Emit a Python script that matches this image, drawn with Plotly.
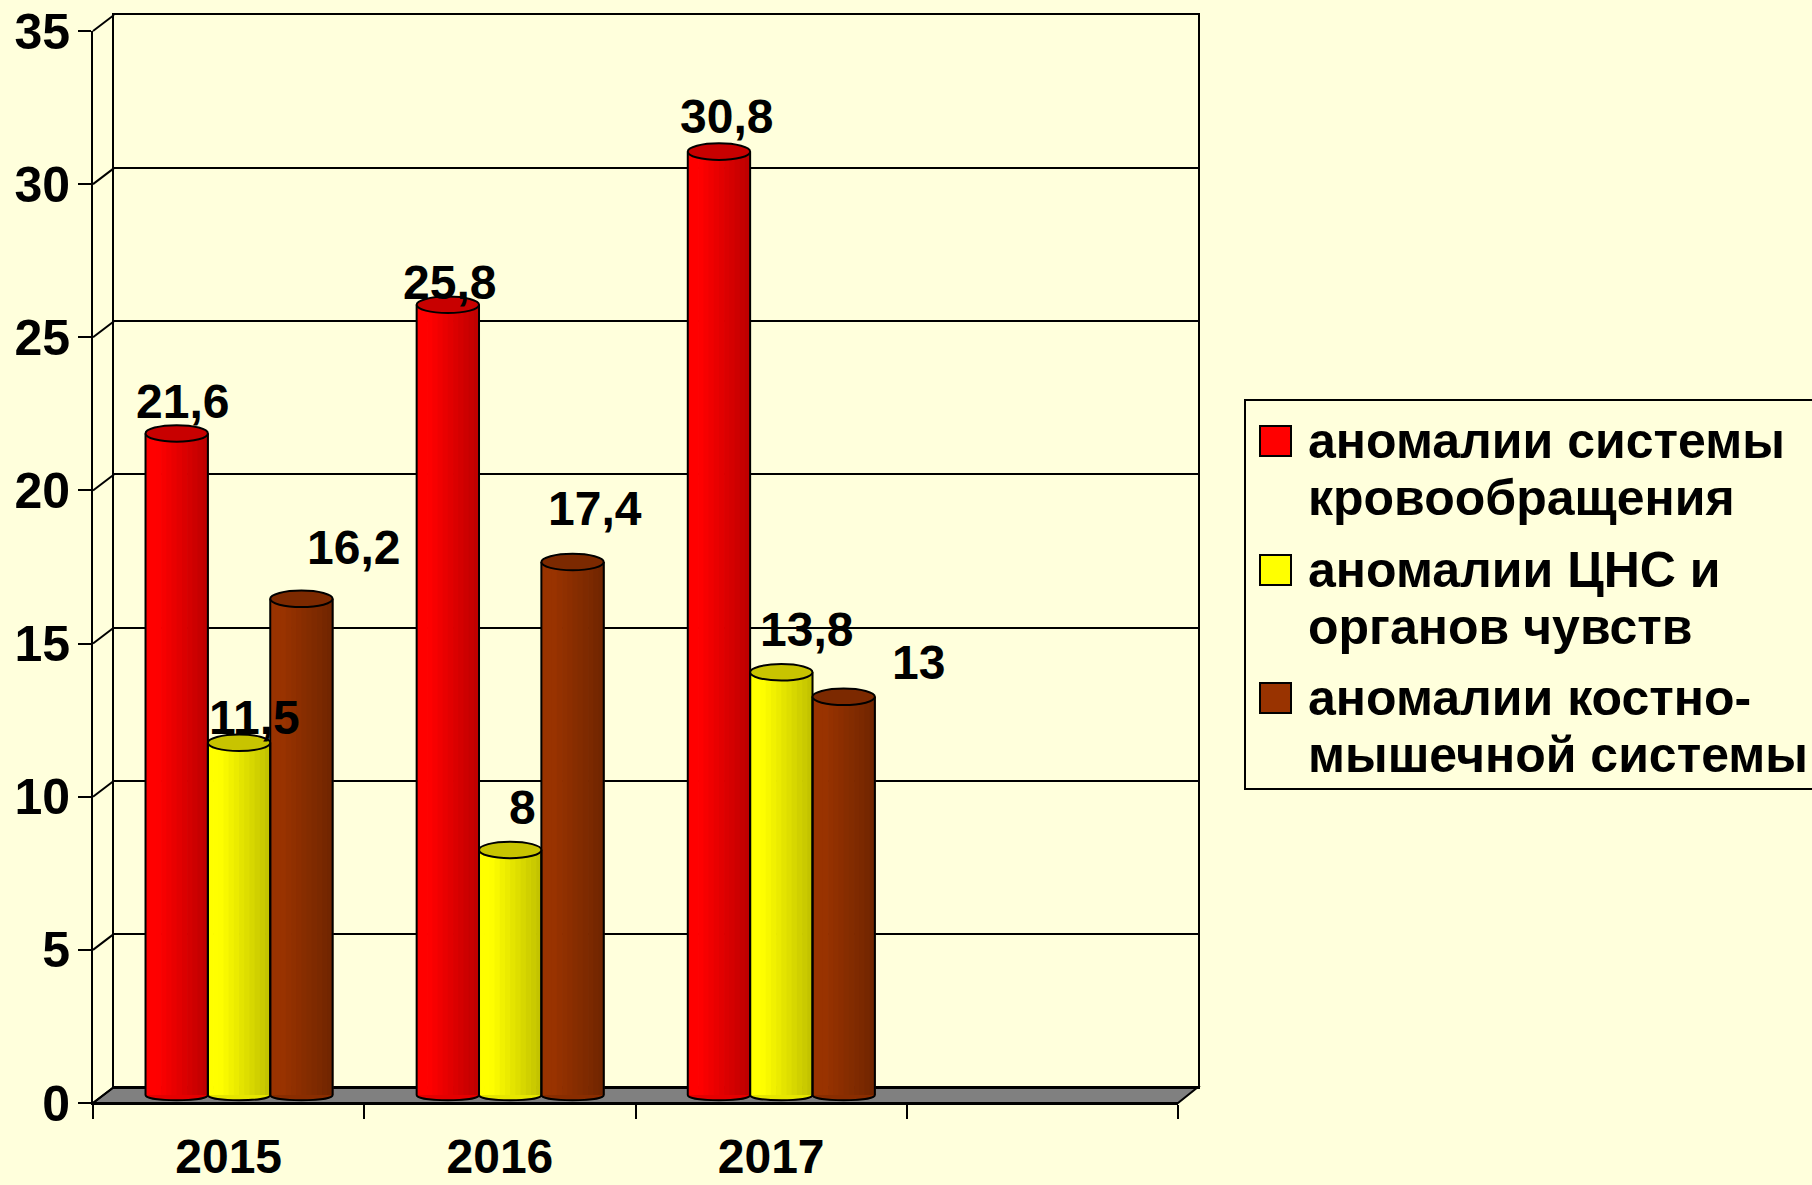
import plotly.graph_objects as go

# ---------------- data ----------------
years = ["2015", "2016", "2017"]
circulatory = [21.6, 25.8, 30.8]
cns = [11.5, 8, 13.8]
musculoskeletal = [16.2, 17.4, 13]
series_values = [circulatory, cns, musculoskeletal]
series_names = [
    ["аномалии системы", "кровообращения"],
    ["аномалии ЦНС и", "органов чувств"],
    ["аномалии костно-", "мышечной системы"],
]
y_ticks = [0, 5, 10, 15, 20, 25, 30, 35]

# ---------------- style ----------------
W, H = 1812, 1185
BG = "#FFFFDC"
FONT = "Liberation Sans, Arial, sans-serif"
base_colors = ["#FF0000", "#FFFF00", "#993300"]
light_rgb = [(255, 0, 0), (255, 255, 0), (153, 51, 0)]
dark_rgb = [(188, 0, 0), (192, 192, 0), (112, 37, 0)]
cap_colors = ["#C80000", "#C8C400", "#7C2900"]
# label offsets in px (dx right, dy up from bar top)
label_dx = [[6, 2, 8], [15, 12, 25], [52, 22, 75]]
label_dy = [[32, 22, 35], [25, 42, 43], [51, 54, 34]]

YMAX = 35
N_SLOTS = 4
FRONT = dict(x0=93, x1=1178, y0=1103, y1=31)
BACK = dict(x0=114, x1=1198, y0=1087, y1=15)
MID = {k: (FRONT[k] + BACK[k]) / 2 for k in FRONT}
BW = 0.2300          # bar width in category units
N_STRIPS = 12
CAP_H = 0.27         # cap half height (data units)
BOT_H = 0.17


def fx(px):
    return px / W


def fy(py):
    return 1 - py / H


mid_k = (MID["y0"] - MID["y1"]) / YMAX
mid_bottom_px = MID["y0"] + mid_k * 1.0

fig = go.Figure()
xs = list(range(len(years)))
centers_off = [-BW, 0, BW]

# empty traces so that the back-wall and front-axis subplots get drawn
fig.add_trace(go.Scatter(x=[None], y=[None], xaxis="x", yaxis="y",
                         showlegend=False, hoverinfo="skip"))
fig.add_trace(go.Scatter(x=[None], y=[None], xaxis="x3", yaxis="y3",
                         showlegend=False, hoverinfo="skip"))

shapes = []

# floor
shapes.append(dict(
    type="path", xref="paper", yref="paper", layer="below",
    path=(f"M {fx(FRONT['x0'])},{fy(FRONT['y0'])} L {fx(FRONT['x1'])},{fy(FRONT['y0'])} "
          f"L {fx(BACK['x1'])},{fy(BACK['y0'])} L {fx(BACK['x0'])},{fy(BACK['y0'])} Z"),
    fillcolor="#808080", line=dict(color="black", width=2)))

# left wall connectors
for v in y_ticks:
    yf = FRONT["y0"] - v * (FRONT["y0"] - FRONT["y1"]) / YMAX
    yb = BACK["y0"] - v * (BACK["y0"] - BACK["y1"]) / YMAX
    shapes.append(dict(type="line", xref="paper", yref="paper", layer="below",
                       x0=fx(FRONT["x0"]), y0=fy(yf), x1=fx(BACK["x0"]), y1=fy(yb),
                       line=dict(color="black", width=2)))


def mix(a, b, m):
    return "rgb(%d,%d,%d)" % tuple(round(a[i] * (1 - m) + b[i] * m) for i in range(3))


for s, vals in enumerate(series_values):
    off = centers_off[s] - BW / 2
    sw = BW / N_STRIPS
    for i in range(N_STRIPS):
        t = (i + 0.5) / N_STRIPS
        m = max(0.0, (t - 0.2) / 0.8)
        fig.add_trace(go.Bar(
            x=xs, y=vals, xaxis="x2", yaxis="y2",
            offset=off + i * sw, width=sw * 1.15,
            marker=dict(color=mix(light_rgb[s], dark_rgb[s], m), line=dict(width=0)),
            showlegend=False, hoverinfo="skip"))
    for j, v in enumerate(vals):
        xl = xs[j] + centers_off[s] - BW / 2
        xr = xs[j] + centers_off[s] + BW / 2
        kb = BOT_H * 4 / 3
        mid_col = mix(light_rgb[s], dark_rgb[s], 0.4)
        shapes.append(dict(type="path", xref="x2", yref="y2", layer="between",
                           path=f"M {xl},0 C {xl},{-kb} {xr},{-kb} {xr},0 Z",
                           fillcolor=mid_col, line=dict(width=0)))
        shapes.append(dict(type="path", xref="x2", yref="y2", layer="above",
                           path=f"M {xl},0 C {xl},{-kb} {xr},{-kb} {xr},0",
                           fillcolor="rgba(0,0,0,0)", line=dict(color="black", width=2)))
        for xe in (xl, xr):
            shapes.append(dict(type="line", xref="x2", yref="y2", layer="above",
                               x0=xe, x1=xe, y0=0, y1=v,
                               line=dict(color="black", width=2)))

# caps drawn last
for s, vals in enumerate(series_values):
    for j, v in enumerate(vals):
        xl = xs[j] + centers_off[s] - BW / 2
        xr = xs[j] + centers_off[s] + BW / 2
        shapes.append(dict(type="circle", xref="x2", yref="y2", layer="above",
                           x0=xl, x1=xr, y0=v - CAP_H, y1=v + CAP_H,
                           fillcolor=cap_colors[s], line=dict(color="black", width=2)))

annotations = []
for s, vals in enumerate(series_values):
    for j, v in enumerate(vals):
        annotations.append(dict(
            x=xs[j] + centers_off[s], y=v, xref="x2", yref="y2",
            text=f"{v:g}".replace(".", ","), showarrow=False,
            xanchor="center", yanchor="middle",
            xshift=label_dx[s][j], yshift=label_dy[s][j],
            font=dict(family=FONT, size=48, color="black", weight="bold")))

# custom legend (box, swatches, text)
LEG = dict(x0=1245, x1=1830, y0=400, y1=789)
shapes.append(dict(type="rect", xref="paper", yref="paper", layer="above",
                   x0=fx(LEG["x0"]), x1=fx(LEG["x1"]), y0=fy(LEG["y1"]), y1=fy(LEG["y0"]),
                   fillcolor="rgba(0,0,0,0)", line=dict(color="black", width=2)))
item_baselines = [458, 587, 715]
line_step = 57
for s, lines in enumerate(series_names):
    b = item_baselines[s]
    shapes.append(dict(type="rect", xref="paper", yref="paper", layer="above",
                       x0=fx(1260), x1=fx(1291), y0=fy(b - 2), y1=fy(b - 32),
                       fillcolor=base_colors[s], line=dict(color="black", width=2)))
    for li, txt in enumerate(lines):
        annotations.append(dict(
            x=fx(1306), y=fy(b + li * line_step - 17), xref="paper", yref="paper",
            text=txt, showarrow=False, xanchor="left", yanchor="middle",
            font=dict(family=FONT, size=50, color="black", weight="bold")))

axis_font = dict(family=FONT, size=50, color="black", weight="bold")
year_font = dict(family=FONT, size=48, color="black", weight="bold")
fig.update_layout(
    width=W, height=H, autosize=False,
    margin=dict(l=0, r=0, t=0, b=0, pad=0, autoexpand=False),
    paper_bgcolor=BG, plot_bgcolor="rgba(0,0,0,0)",
    barmode="overlay", showlegend=False, hovermode=False,
    shapes=shapes, annotations=annotations,
    # back wall
    xaxis=dict(domain=[fx(BACK["x0"]), fx(BACK["x1"])], range=[-0.5, N_SLOTS - 0.5],
               anchor="y", showline=True, mirror=True, linecolor="black", linewidth=2,
               showgrid=False, zeroline=False, showticklabels=False, ticks="",
               automargin=False),
    yaxis=dict(domain=[fy(BACK["y0"]), fy(BACK["y1"])], range=[0, YMAX], anchor="x",
               tickmode="array", tickvals=y_ticks, showgrid=True, gridcolor="black",
               gridwidth=2, showline=True, mirror=True, linecolor="black", linewidth=2,
               zeroline=False, showticklabels=False, ticks="", automargin=False),
    # mid plane (bars)
    xaxis2=dict(domain=[fx(MID["x0"]), fx(MID["x1"])], range=[-0.5, N_SLOTS - 0.5],
                anchor="y2", visible=False, automargin=False),
    yaxis2=dict(domain=[fy(mid_bottom_px), fy(MID["y1"])], range=[-1, YMAX],
                anchor="x2", visible=False, automargin=False),
    # front axes
    xaxis3=dict(domain=[fx(FRONT["x0"]), fx(FRONT["x1"])], range=[-0.5, N_SLOTS - 0.5],
                anchor="y3", showline=True, linecolor="black", linewidth=2,
                tickmode="array", tickvals=xs, ticktext=years, ticks="",
                tickfont=year_font, ticklabelstandoff=10, automargin=False,
                minor=dict(tickmode="array", tickvals=[k - 0.5 for k in range(N_SLOTS + 1)],
                           ticks="outside", ticklen=14, tickwidth=2, tickcolor="black",
                           showgrid=False),
                showgrid=False, zeroline=False),
    yaxis3=dict(domain=[fy(FRONT["y0"]), fy(FRONT["y1"])], range=[0, YMAX],
                anchor="x3", showline=True, linecolor="black", linewidth=2,
                tickmode="array", tickvals=y_ticks, ticks="outside", ticklen=13,
                tickwidth=2, tickcolor="black", tickfont=axis_font,
                ticklabelstandoff=-2, showgrid=False, zeroline=False, automargin=False),
)

fig.write_html("out.html",
               config={"displayModeBar": False},
               post_script="document.body.style.margin='0';"
                           "document.body.style.overflow='hidden';")
